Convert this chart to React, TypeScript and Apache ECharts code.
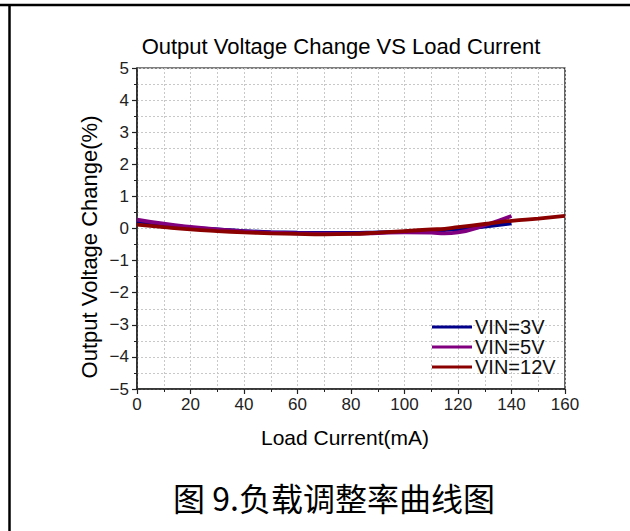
import React, { useEffect, useRef } from "react";
import * as echarts from "echarts";

const loadCurrent = [0, 10, 20, 30, 40, 50, 60, 70, 80, 90, 100, 110, 115, 120, 130, 140, 150, 160];
const vin3V = [0.22, 0.12, 0.03, -0.03, -0.08, -0.11, -0.13, -0.14, -0.14, -0.12, -0.1, -0.07, -0.05, -0.02, 0.06, 0.16, null, null];
const vin5V = [0.28, 0.15, 0.05, -0.03, -0.09, -0.13, -0.15, -0.16, -0.16, -0.14, -0.12, -0.13, -0.15, -0.12, 0.1, 0.39, null, null];
const vin12V = [0.12, 0.04, -0.03, -0.08, -0.12, -0.15, -0.17, -0.18, -0.17, -0.13, -0.08, -0.03, -0.01, 0.04, 0.14, 0.24, 0.31, 0.39];
const seriesNames = ["VIN=3V", "VIN=5V", "VIN=12V"];
const seriesColors = ["#00008B", "#800080", "#8B0000"];

const FONT = "Liberation Sans, Arial, sans-serif";

export default function App() {
  const ref = useRef<HTMLDivElement>(null);
  useEffect(() => {
    if (!ref.current) return;
    const chart = echarts.init(ref.current, undefined, { renderer: "svg" });
    const all = [vin3V, vin5V, vin12V];
    chart.setOption({
      animation: false,
      backgroundColor: "#fff",
      textStyle: { fontFamily: FONT },
      grid: { left: 137, right: 65, top: 68, bottom: 142, show: true, borderColor: "#000", borderWidth: 1.2 },
      legend: {
        data: seriesNames,
        orient: "vertical",
        left: 427,
        top: 312,
        icon: "rect",
        itemWidth: 40,
        itemHeight: 3,
        itemGap: 0,
        textStyle: { fontFamily: FONT, fontSize: 20, color: "#111", padding: [0, 0, 0, -2] },
      },
      xAxis: {
        type: "value",
        min: 0,
        max: 160,
        interval: 20,
        axisLine: { show: true, onZero: false, lineStyle: { color: "#222", width: 1.5 } },
        axisTick: { show: true, length: 5, lineStyle: { color: "#222", width: 1.2 } },
        minorTick: { show: true, splitNumber: 2, length: 3, lineStyle: { color: "#222" } },
        axisLabel: { fontFamily: FONT, fontSize: 17, color: "#222", margin: 7 },
        splitLine: { show: true, lineStyle: { color: "#c8c8c8", type: [2, 2], width: 1 } },
        minorSplitLine: { show: true, lineStyle: { color: "#c8c8c8", type: [2, 2], width: 1 } },
      },
      yAxis: {
        type: "value",
        min: -5,
        max: 5,
        interval: 1,
        axisLine: { show: true, onZero: false, lineStyle: { color: "#222", width: 1.5 } },
        axisTick: { show: true, length: 5, lineStyle: { color: "#222", width: 1.2 } },
        minorTick: { show: true, splitNumber: 2, length: 3, lineStyle: { color: "#222" } },
        axisLabel: {
          fontFamily: FONT,
          fontSize: 17,
          color: "#222",
          margin: 8,
          formatter: (v: number) => String(v).replace("-", "\u2212"),
        },
        splitLine: { show: true, lineStyle: { color: "#c8c8c8", type: [2, 2], width: 1 } },
        minorSplitLine: { show: true, lineStyle: { color: "#c8c8c8", type: [2, 2], width: 1 } },
      },
      series: seriesNames.map((name, i) => ({
        name,
        type: "line",
        smooth: true,
        symbol: "none",
        color: seriesColors[i],
        lineStyle: { width: 3.8, color: seriesColors[i] },
        data: loadCurrent.map((x, j) => [x, all[i][j]]).filter((p) => p[1] !== null),
      })),
      graphic: [
        { type: "line", shape: { x1: 0, y1: 5, x2: 630, y2: 5 }, style: { stroke: "#000", lineWidth: 2.5 } },
        { type: "line", shape: { x1: 9.5, y1: 4, x2: 9.5, y2: 531 }, style: { stroke: "#000", lineWidth: 2.5 } },
        {
          type: "text",
          x: 341,
          y: 46,
          style: { text: "Output Voltage Change VS Load Current", font: `22px ${FONT}`, fill: "#000", align: "center", verticalAlign: "middle" },
        },
        {
          type: "text",
          x: 89,
          y: 247,
          rotation: Math.PI / 2,
          style: { text: "Output Voltage Change(%)", font: `22px ${FONT}`, fill: "#000", align: "center", verticalAlign: "middle" },
        },
        {
          type: "text",
          x: 345,
          y: 437,
          style: { text: "Load Current(mA)", font: `21px ${FONT}`, fill: "#000", align: "center", verticalAlign: "middle" },
        },
        {
          type: "text",
          x: 334,
          y: 497,
          style: { text: "图 9.负载调整率曲线图", font: `32px "Noto Sans CJK SC", sans-serif`, fill: "#000", align: "center", verticalAlign: "middle" },
        },
      ],
    });
    return () => chart.dispose();
  }, []);
  return <div ref={ref} style={{ position: "fixed", left: 0, top: 0, width: 630, height: 531 }} />;
}
